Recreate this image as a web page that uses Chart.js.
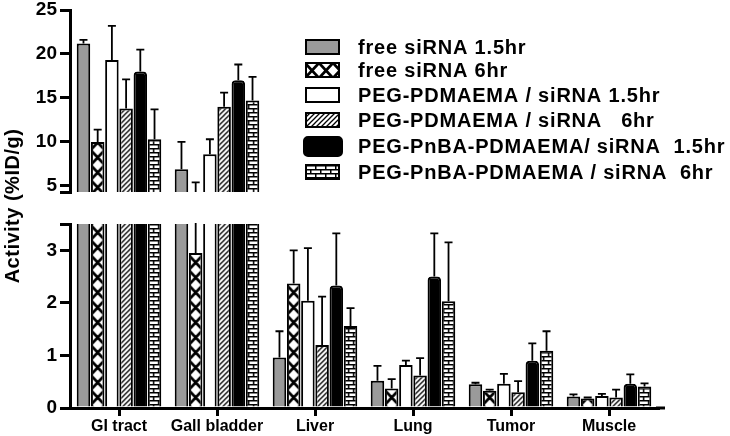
<!DOCTYPE html>
<html><head><meta charset="utf-8">
<script src="https://cdn.jsdelivr.net/npm/chart.js@4"></script>
<style>
html,body{margin:0;padding:0;background:#fff;}
#wrap{position:relative;width:730px;height:436px;background:#fff;}
canvas{position:absolute;left:0;top:0;}
</style></head><body>
<div id="wrap"><canvas id="cTop" width="730" height="436"></canvas><canvas id="cBot" width="730" height="436"></canvas></div>
<script>
// ---------- data ----------
const categories = ['GI tract', 'Gall bladder', 'Liver', 'Lung', 'Tumor', 'Muscle'];
const seriesNames = [
  'free siRNA 1.5hr',
  'free siRNA 6hr',
  'PEG-PDMAEMA / siRNA 1.5hr',
  'PEG-PDMAEMA / siRNA   6hr',
  'PEG-PnBA-PDMAEMA/ siRNA  1.5hr',
  'PEG-PnBA-PDMAEMA / siRNA  6hr'
];
const freeSi15 = [21.2, 6.9, 0.96, 0.52, 0.45, 0.22];
const freeSi6 = [10.0, 2.95, 2.37, 0.37, 0.33, 0.18];
const pegPd15 = [19.3, 8.6, 2.04, 0.82, 0.46, 0.23];
const pegPd6 = [13.8, 14.0, 1.20, 0.62, 0.30, 0.20];
const pnba15 = [18.0, 17.0, 2.33, 2.50, 0.90, 0.46];
const pnba6 = [10.3, 14.7, 1.56, 2.03, 1.09, 0.41];
const freeSi15Sd = [0.4, 3.1, 0.50, 0.28, 0.03, 0.04];
const freeSi6Sd = [1.4, 2.45, 0.63, 0.18, 0.02, 0.02];
const pegPd15Sd = [3.9, 1.7, 1.00, 0.08, 0.19, 0.04];
const pegPd6Sd = [3.3, 1.6, 0.92, 0.33, 0.21, 0.15];
const pnba15Sd = [2.5, 1.8, 0.99, 0.82, 0.33, 0.18];
const pnba6Sd = [3.4, 2.7, 0.34, 1.12, 0.37, 0.06];
const upperTicks = [5, 10, 15, 20, 25];
const lowerTicks = [0, 1, 2, 3];
const upperRange = [4.3, 25];
const lowerRange = [0, 3.5];
const yTitle = 'Activity (%ID/g)';

const seriesValues = [freeSi15, freeSi6, pegPd15, pegPd6, pnba15, pnba6];
const seriesSd = [freeSi15Sd, freeSi6Sd, pegPd15Sd, pegPd6Sd, pnba15Sd, pnba6Sd];

// ---------- patterns ----------
const FONT = "'Liberation Sans', Arial, sans-serif";
function makePattern(w, h, draw) {
  const c = document.createElement('canvas'); c.width = w; c.height = h;
  const x = c.getContext('2d');
  x.fillStyle = '#fff'; x.fillRect(0, 0, w, h);
  x.strokeStyle = '#000'; x.fillStyle = '#000';
  draw(x, w, h);
  return x.createPattern(c, 'repeat');
}
const crossPat = makePattern(14, 15, (x, w, h) => {
  x.lineWidth = 2.8;
  x.beginPath();
  x.moveTo(0, 0); x.lineTo(w, h);
  x.moveTo(w, 0); x.lineTo(0, h);
  x.stroke();
});
const diagPat = makePattern(5, 5, (x, w, h) => {
  x.lineWidth = 1.3;
  x.beginPath();
  x.moveTo(-1, h + 1); x.lineTo(w + 1, -1);
  x.moveTo(-1, 1); x.lineTo(1, -1);
  x.moveTo(w - 1, h + 1); x.lineTo(w + 1, h - 1);
  x.stroke();
});
const brickPat = makePattern(10, 8, (x, w, h) => {
  x.fillRect(0, 0, w, 1.5);
  x.fillRect(0, 4, w, 1.5);
  x.fillRect(0, 0, 1.5, 4);
  x.fillRect(5, 4, 1.5, 4);
});
const fills = ['#9a9a9a', crossPat, '#ffffff', diagPat, '#000000', brickPat];

// ---------- plugins ----------
const alignPlugin = {
  id: 'align',
  beforeDatasetsDraw(chart) {
    [[1, crossPat], [3, diagPat], [5, brickPat]].forEach(([i, p]) => {
      const bar = chart.getDatasetMeta(i).data[0];
      if (!bar) return;
      p.setTransform(new DOMMatrix([1, 0, 0, 1, i === 1 ? bar.x - 7 : bar.x - bar.width / 2, 0]));
    });
  }
};
const errorPlugin = {
  id: 'err',
  afterDatasetsDraw(chart) {
    const ctx = chart.ctx, a = chart.chartArea, ys = chart.scales.y;
    ctx.save();
    ctx.beginPath();
    ctx.rect(a.left, a.top - 1, a.right - a.left, a.bottom - a.top + 1);
    ctx.clip();
    ctx.strokeStyle = '#000';
    ctx.lineWidth = 1.8;
    chart.data.datasets.forEach((ds, i) => {
      const meta = chart.getDatasetMeta(i);
      meta.data.forEach((bar, j) => {
        const v = ds.data[j], e = seriesSd[i][j];
        if (v + e <= ys.min) return;
        const y0 = ys.getPixelForValue(Math.max(v, ys.min));
        const y1 = ys.getPixelForValue(v + e);
        ctx.beginPath();
        ctx.moveTo(bar.x, y0); ctx.lineTo(bar.x, y1);
        ctx.moveTo(bar.x - 4, y1); ctx.lineTo(bar.x + 4, y1);
        ctx.stroke();
      });
    });
    ctx.restore();
  }
};
const legendPlugin = {
  id: 'customLegend',
  afterDraw(chart) {
    const ctx = chart.ctx;
    const rows = [47, 70, 95, 120, 146, 172];
    ctx.save();
    seriesNames.forEach((name, i) => {
      const yc = rows[i];
      const fill = fills[i];
      if (fill && fill.setTransform) fill.setTransform(new DOMMatrix([1, 0, 0, 1, 305, yc - 7]));
      ctx.fillStyle = fill;
      ctx.strokeStyle = '#000';
      ctx.lineWidth = 2;
      if (i === 4) {
        ctx.beginPath();
        ctx.roundRect(304, yc - 9, 38, 19, 4);
        ctx.fill(); ctx.stroke();
      } else {
        ctx.fillRect(306, yc - 7, 33, 14);
        ctx.strokeRect(306, yc - 7, 33, 14);
      }
      ctx.fillStyle = '#000';
      ctx.font = 'bold 20px ' + FONT;
      ctx.letterSpacing = '0.8px';
      ctx.textBaseline = 'middle';
      ctx.textAlign = 'left';
      ctx.fillText(name, 358, yc + 1);
    });
    ctx.letterSpacing = '0px';
    // y-axis title
    ctx.translate(13, 206);
    ctx.rotate(-Math.PI / 2);
    ctx.textAlign = 'center';
    ctx.textBaseline = 'middle';
    ctx.font = 'bold 20px ' + FONT;
    ctx.letterSpacing = '0.5px';
    ctx.fillText(yTitle, 0, 0);
    ctx.restore();
  }
};
const axisExtPlugin = {
  id: 'axisExt',
  afterDraw(chart) {
    const ctx = chart.ctx, a = chart.chartArea;
    ctx.save();
    ctx.strokeStyle = '#000'; ctx.lineWidth = 3;
    ctx.beginPath(); ctx.moveTo(a.right - 2, a.bottom); ctx.lineTo(665, a.bottom); ctx.stroke();
    ctx.restore();
  }
};

function buildChart(id, isUpper) {
  const range = isUpper ? upperRange : lowerRange;
  const labelled = isUpper ? upperTicks : lowerTicks;
  const allTicks = isUpper ? [range[0]].concat(upperTicks) : lowerTicks.concat([range[1]]);
  return new Chart(document.getElementById(id), {
    type: 'bar',
    data: {
      labels: categories,
      datasets: seriesNames.map((n, i) => ({
        label: n,
        data: seriesValues[i],
        backgroundColor: fills[i],
        borderColor: '#000',
        borderWidth: 2,
        borderSkipped: 'start',
        borderRadius: i === 4 ? { topLeft: 4, topRight: 4, bottomLeft: 0, bottomRight: 0 } : 0,
        clip: 0
      }))
    },
    options: {
      responsive: false,
      animation: false,
      devicePixelRatio: 1,
      layout: { padding: isUpper ? { left: 0, right: 72, top: 10, bottom: 244 } : { left: 0, right: 72, top: 224, bottom: 0 } },
      plugins: { legend: { display: false }, tooltip: { enabled: false } },
      datasets: { bar: { categoryPercentage: 0.87, barPercentage: 0.95 } },
      scales: {
        x: {
          display: !isUpper,
          grid: { display: true, drawOnChartArea: false, offset: false, color: '#000', lineWidth: 3, tickLength: 8 },
          border: { display: true, color: '#000', width: 3 },
          ticks: { color: '#000', font: { family: FONT, weight: 'bold', size: 16 }, padding: 1, maxRotation: 0, autoSkip: false },
          afterFit(s) { s.height = isUpper ? 0 : 28; s.paddingLeft = 0; s.paddingRight = 0; }
        },
        y: {
          min: range[0], max: range[1],
          afterBuildTicks(s) { s.ticks = allTicks.map(v => ({ value: v })); },
          grid: { drawOnChartArea: false, color: '#000', lineWidth: 3, tickLength: 10 },
          border: { color: '#000', width: 3 },
          ticks: {
            color: '#000', padding: 3,
            font: { family: FONT, weight: 'bold', size: 19 },
            callback: (v) => labelled.includes(v) ? String(v) : ''
          },
          afterFit(s) { s.width = 70; s.paddingTop = 0; s.paddingBottom = 0; }
        }
      }
    },
    plugins: isUpper ? [alignPlugin, errorPlugin, legendPlugin] : [alignPlugin, errorPlugin, axisExtPlugin]
  });
}
buildChart('cBot', false);
buildChart('cTop', true);
</script>
</body></html>
